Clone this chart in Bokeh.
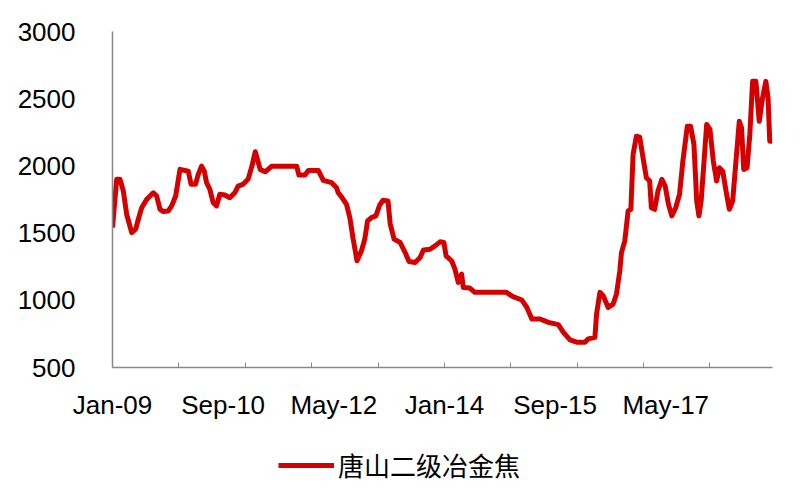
from bokeh.plotting import figure
from bokeh.models import FixedTicker, Legend, LegendItem
from bokeh.layouts import column
from bokeh.embed import file_html
from bokeh.resources import INLINE

# months elapsed since Jan-2009
months = [0.0, 0.76, 1.36, 1.96, 2.56, 3.47, 4.19, 4.67, 5.27, 6.18, 7.38, 7.98, 8.59, 9.19,
          10.09, 10.69, 11.42, 12.2, 13.1, 13.7, 14.2, 15.0, 15.5, 16.1, 16.6, 17.0, 17.6,
          18.2, 18.8, 19.4, 20.3, 21.2, 22.1, 22.7, 23.6, 24.5, 25.2, 25.8, 26.2, 26.7,
          27.6, 28.8, 33.3, 33.7, 34.8, 35.4, 37.2, 38.1, 39.6, 40.5, 40.8, 41.4, 42.3,
          42.9, 43.5, 44.2, 45.0, 45.6, 46.1, 46.8, 47.6, 48.3, 48.9, 49.8, 50.2, 50.9,
          52.0, 52.9, 53.6, 54.7, 55.6, 56.2, 57.4, 58.3, 59.2, 59.9, 60.3, 61.3, 61.9,
          62.5, 63.1, 63.4, 64.6, 65.5, 71.2, 72.4, 74.0, 74.9, 75.8, 77.3, 78.8, 80.6,
          81.5, 82.7, 83.9, 85.4, 86.0, 87.2, 87.5, 88.1, 88.7, 89.6, 90.5, 91.1, 91.7,
          92.0, 92.6, 93.2, 93.7, 94.1, 94.7, 95.3, 95.9, 96.5, 97.1, 97.4, 98.0, 98.6,
          99.3, 99.9, 100.5, 101.1, 101.8, 102.5, 103.1, 103.9, 104.5, 105.1, 105.6,
          106.0, 106.4, 107.1, 107.4, 108.0, 108.6, 109.2, 109.7, 110.3, 110.9, 111.5,
          112.1, 112.7, 113.3, 113.7, 114.1, 114.7, 115.2, 115.7, 116.3, 116.9, 117.5,
          118.1, 118.5, 118.8, 119.3]
price = [1541, 1900, 1900, 1813, 1640, 1504, 1529, 1603, 1689, 1751, 1800, 1776, 1677, 1660,
         1665, 1702, 1776, 1974, 1966, 1961, 1863, 1863, 1937, 1998, 1961, 1875, 1826,
         1726, 1702, 1789, 1783, 1763, 1800, 1850, 1863, 1900, 1998, 2105, 2048, 1974,
         1956, 1998, 1998, 1932, 1932, 1966, 1966, 1892, 1875, 1837, 1800, 1770, 1714,
         1615, 1455, 1294, 1368, 1455, 1590, 1615, 1628, 1709, 1744, 1739, 1566, 1455,
         1430, 1355, 1289, 1281, 1318, 1375, 1380, 1405, 1435, 1430, 1331, 1294, 1232,
         1133, 1195, 1096, 1091, 1059, 1059, 1027, 1002, 947, 861, 861, 836, 819,
         762, 705, 688, 688, 713, 725, 898, 1059, 1034, 947, 972, 1047, 1220,
         1355, 1442, 1665, 1677, 2085, 2221, 2214, 2060, 1912, 1887, 1689, 1677, 1813,
         1900, 1850, 1714, 1628, 1689, 1789, 2036, 2295, 2295, 2159, 1739,
         1628, 1739, 2134, 2308, 2271, 2036, 1887, 1986, 1961, 1813, 1677,
         1739, 2036, 2332, 2283, 1974, 1986, 2234, 2629, 2629, 2332, 2505,
         2629, 2505, 2184, 2184]

series_name = "唐山二级冶金焦"
label_months = [0, 20, 40, 60, 80, 100]
label_texts = ["Jan-09", "Sep-10", "May-12", "Jan-14", "Sep-15", "May-17"]
year_ticks = [0, 12, 24, 36, 48, 60, 72, 84, 96, 108]
y_ticks = [500, 1000, 1500, 2000, 2500, 3000]

FONT = "Liberation Sans, Arial, Noto Sans CJK SC"
LINE_COLOR = "#D40000"

p = figure(frame_width=660, frame_height=336,
           x_range=(0, 119.3), y_range=(500, 3000),
           output_backend="svg", toolbar_location=None,
           min_border_left=112, min_border_right=27, min_border_top=31,
           min_border_bottom=60)
p.outline_line_color = None
p.xgrid.visible = False
p.ygrid.visible = False
p.background_fill_color = "white"

r = p.line(months, price, line_color=LINE_COLOR, line_width=5, line_join="round")

# x axis
xa = p.xaxis[0]
xa.ticker = FixedTicker(ticks=label_months, minor_ticks=year_ticks)
xa.major_label_overrides = {m: t for m, t in zip(label_months, label_texts)}
xa.major_tick_in = 0
xa.major_tick_out = 0
xa.minor_tick_in = 5
xa.minor_tick_out = 0
xa.minor_tick_line_color = "#888888"
xa.axis_line_color = "#888888"
xa.axis_line_width = 1.5
xa.major_label_standoff = 22
xa.major_label_text_font = FONT
xa.major_label_text_font_size = "26px"
xa.major_label_text_color = "black"

# y axis
ya = p.yaxis[0]
ya.ticker = FixedTicker(ticks=y_ticks)
ya.major_tick_in = 0
ya.major_tick_out = 0
ya.minor_tick_line_color = None
ya.axis_line_color = "#888888"
ya.axis_line_width = 1.5
ya.major_label_standoff = 37
ya.major_label_text_font = FONT
ya.major_label_text_font_size = "26px"
ya.major_label_text_color = "black"

# legend strip below the chart: same series, ranges chosen so only the legend shows
p2 = figure(frame_width=780, frame_height=72, x_range=(-10, -9), y_range=(-10, -9),
            output_backend="svg", toolbar_location=None,
            x_axis_type=None, y_axis_type=None,
            min_border_left=0, min_border_right=0, min_border_top=0, min_border_bottom=0)
p2.outline_line_color = None
p2.xgrid.visible = False
p2.ygrid.visible = False
r2 = p2.line(months, price, line_color=LINE_COLOR, line_width=5)

legend = Legend(items=[LegendItem(label=series_name, renderers=[r2])],
                orientation="horizontal", location=(278, 16),
                border_line_color=None, background_fill_alpha=0,
                label_text_font=FONT, label_text_font_size="26px",
                label_text_color="black", glyph_width=56, glyph_height=26,
                label_standoff=4, padding=5, margin=0)
p2.add_layout(legend, "center")

layout = column(p, p2, spacing=0)
open("out.html", "w").write(file_html(layout, INLINE))
